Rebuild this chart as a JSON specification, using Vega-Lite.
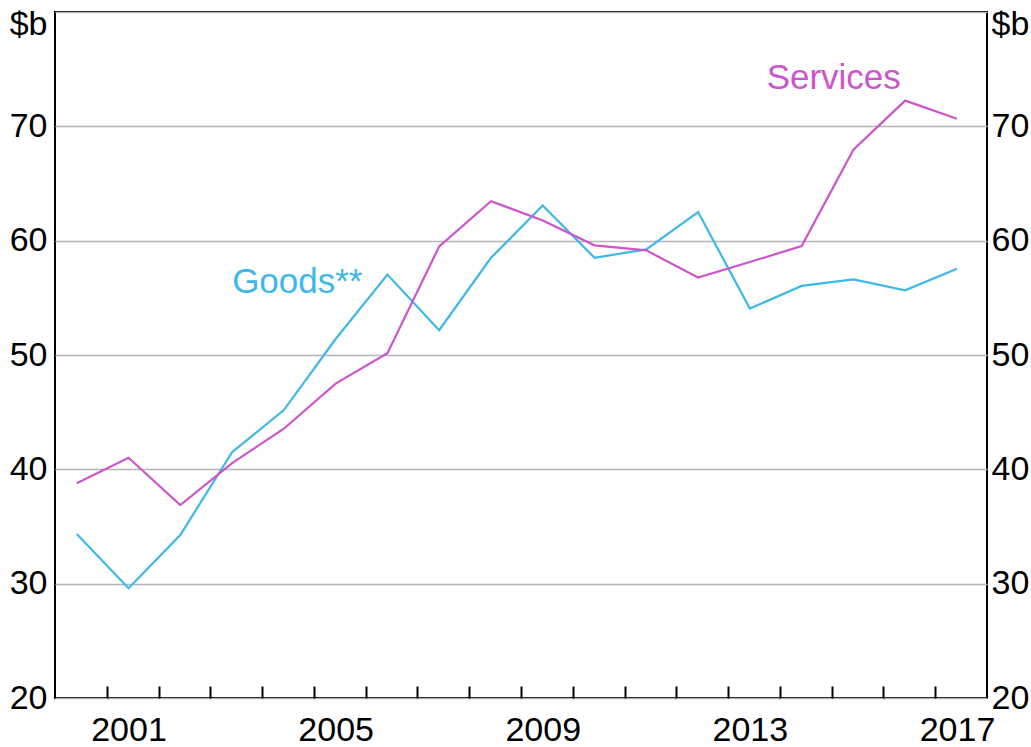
{
  "$schema": "https://vega.github.io/schema/vega-lite/v6.json",
  "width": 932,
  "height": 686,
  "autosize": {"type": "none"},
  "padding": {"left": 55, "top": 12, "right": 44, "bottom": 49},
  "background": "white",
  "config": {
    "view": {"stroke": "black", "strokeWidth": 2},
    "font": "Liberation Sans",
    "axis": {"labelFont": "Liberation Sans", "labelFontSize": 34, "labelColor": "black", "title": null}
  },
  "datasets": {
    "series": [
      {"year": 2000, "series": "Goods**", "value": 34.35},
      {"year": 2001, "series": "Goods**", "value": 29.6},
      {"year": 2002, "series": "Goods**", "value": 34.26},
      {"year": 2003, "series": "Goods**", "value": 41.5},
      {"year": 2004, "series": "Goods**", "value": 45.18},
      {"year": 2005, "series": "Goods**", "value": 51.4},
      {"year": 2006, "series": "Goods**", "value": 57.03},
      {"year": 2007, "series": "Goods**", "value": 52.17},
      {"year": 2008, "series": "Goods**", "value": 58.5},
      {"year": 2009, "series": "Goods**", "value": 63.08},
      {"year": 2010, "series": "Goods**", "value": 58.5},
      {"year": 2011, "series": "Goods**", "value": 59.24},
      {"year": 2012, "series": "Goods**", "value": 62.5},
      {"year": 2013, "series": "Goods**", "value": 54.06},
      {"year": 2014, "series": "Goods**", "value": 56.04},
      {"year": 2015, "series": "Goods**", "value": 56.62},
      {"year": 2016, "series": "Goods**", "value": 55.66},
      {"year": 2017, "series": "Goods**", "value": 57.55},
      {"year": 2000, "series": "Services", "value": 38.78},
      {"year": 2001, "series": "Services", "value": 41.01},
      {"year": 2002, "series": "Services", "value": 36.88},
      {"year": 2003, "series": "Services", "value": 40.55},
      {"year": 2004, "series": "Services", "value": 43.55},
      {"year": 2005, "series": "Services", "value": 47.5},
      {"year": 2006, "series": "Services", "value": 50.15},
      {"year": 2007, "series": "Services", "value": 59.5},
      {"year": 2008, "series": "Services", "value": 63.45},
      {"year": 2009, "series": "Services", "value": 61.77},
      {"year": 2010, "series": "Services", "value": 59.59},
      {"year": 2011, "series": "Services", "value": 59.15},
      {"year": 2012, "series": "Services", "value": 56.77},
      {"year": 2013, "series": "Services", "value": 58.13},
      {"year": 2014, "series": "Services", "value": 59.53},
      {"year": 2015, "series": "Services", "value": 67.95},
      {"year": 2016, "series": "Services", "value": 72.25},
      {"year": 2017, "series": "Services", "value": 70.66}
    ],
    "labels": [
      {"series": "Goods**", "year": 2004.26, "value": 56.42},
      {"series": "Services", "year": 2014.62, "value": 74.22}
    ]
  },
  "layer": [
    {
      "data": {"name": "series"},
      "mark": {"type": "line", "strokeWidth": 2.2},
      "encoding": {
        "x": {
          "field": "year", "type": "quantitative",
          "scale": {"domain": [1999.58, 2017.58], "nice": false, "zero": false},
          "axis": {
            "orient": "bottom",
            "values": [2000.58, 2001.58, 2002.58, 2003.58, 2004.58, 2005.58, 2006.58, 2007.58, 2008.58, 2009.58, 2010.58, 2011.58, 2012.58, 2013.58, 2014.58, 2015.58, 2016.58],
            "labels": false, "grid": false, "domain": false,
            "ticks": true, "tickSize": -12, "tickColor": "black", "tickWidth": 2
          }
        },
        "y": {
          "field": "value", "type": "quantitative",
          "scale": {"domain": [20, 80], "nice": false, "zero": false},
          "axis": {
            "orient": "left",
            "values": [20, 30, 40, 50, 60, 70, 80],
            "labelExpr": "datum.value == 80 ? '$b' : datum.label",
            "labelOffset": {"condition": {"test": "datum.value == 80", "value": 12}, "value": 0},
            "ticks": false, "domain": false, "labelPadding": 8,
            "grid": true, "gridColor": "#B4B4B4", "gridWidth": 1.5
          }
        },
        "color": {
          "field": "series", "type": "nominal",
          "scale": {"domain": ["Goods**", "Services"], "range": ["#3DB8E8", "#CC55CC"]},
          "legend": null
        }
      }
    },
    {
      "data": {"name": "labels"},
      "mark": {"type": "text", "fontSize": 35, "font": "Liberation Sans", "align": "center", "baseline": "middle"},
      "encoding": {
        "x": {
          "field": "year", "type": "quantitative",
          "axis": {
            "orient": "bottom",
            "values": [2001, 2005, 2009, 2013, 2017],
            "format": "d",
            "ticks": false, "domain": false, "grid": false,
            "labelPadding": 15
          }
        },
        "y": {
          "field": "value", "type": "quantitative",
          "axis": {
            "orient": "right",
            "values": [20, 30, 40, 50, 60, 70, 80],
            "labelExpr": "datum.value == 80 ? '$b' : datum.label",
            "labelOffset": {"condition": {"test": "datum.value == 80", "value": 12}, "value": 0},
            "ticks": false, "domain": false, "grid": false, "labelPadding": 4
          }
        },
        "text": {"field": "series"},
        "color": {"field": "series", "type": "nominal", "legend": null}
      }
    }
  ],
  "resolve": {"axis": {"x": "independent", "y": "independent"}}
}
